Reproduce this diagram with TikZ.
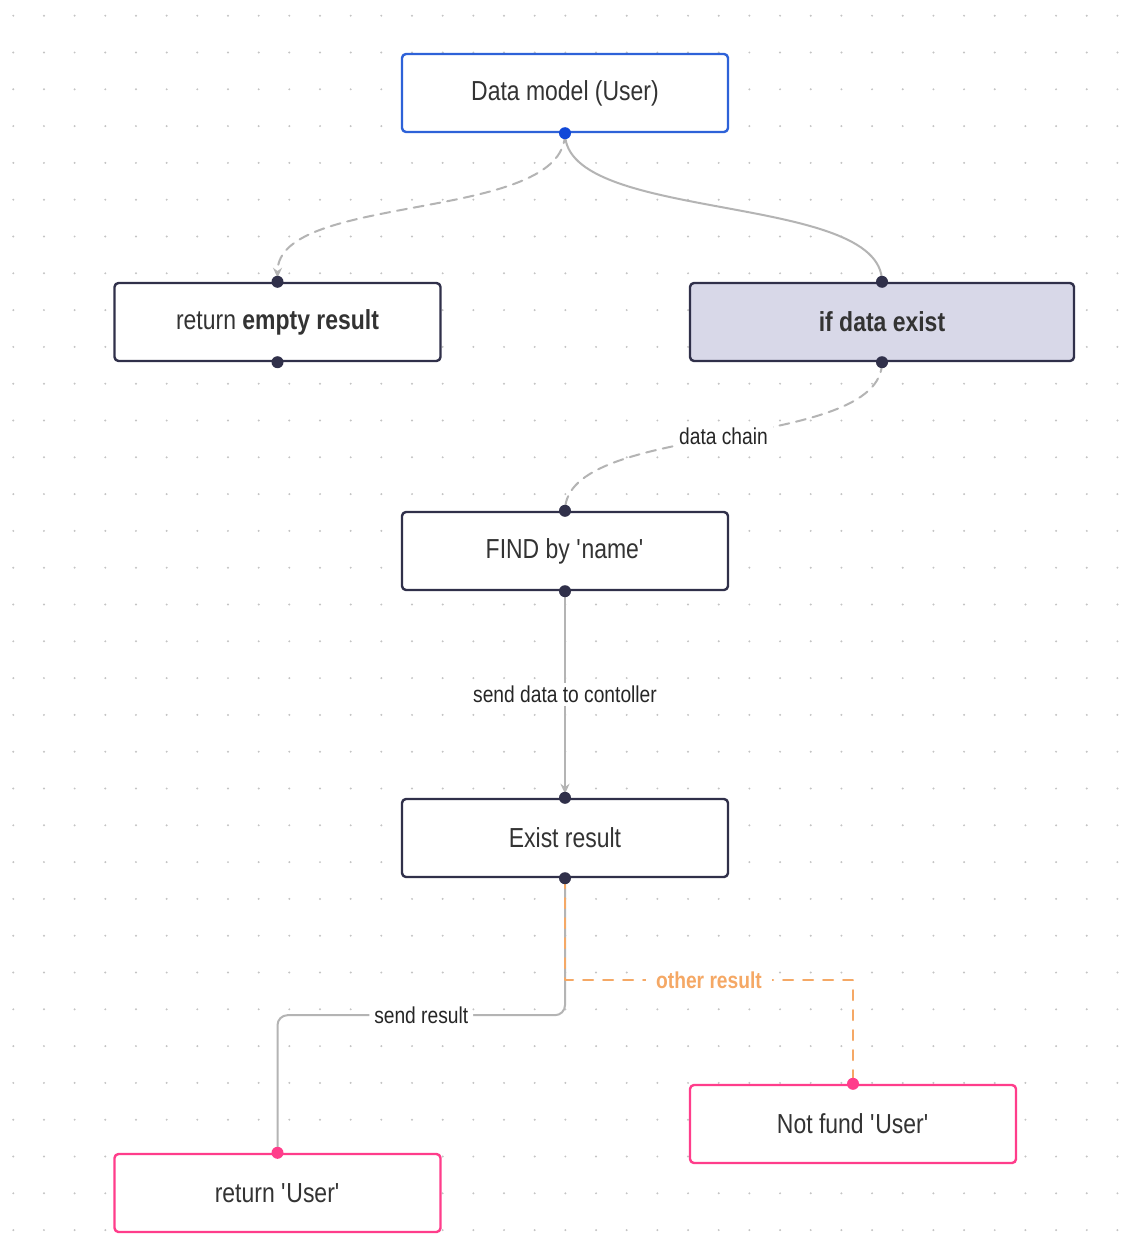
\documentclass[tikz,border=0pt]{standalone}
\usepackage{fontspec}
\setmainfont{Liberation Sans}[FakeStretch=0.835]
\usetikzlibrary{arrows.meta}

\definecolor{edgegray}{HTML}{B4B4B4}
\definecolor{boxdark}{HTML}{30304A}
\definecolor{boxblue}{HTML}{2E62D8}
\definecolor{dotblue}{HTML}{1148D8}
\definecolor{boxpink}{HTML}{FF3D8B}
\definecolor{condfill}{HTML}{D8D8E8}
\definecolor{otherorange}{HTML}{F5A865}
\definecolor{txtgray}{HTML}{333333}
\definecolor{griddot}{HTML}{C4C4C4}

\newcommand{\sq}{\textquotesingle}

\begin{document}
\begin{tikzpicture}[
  x={(1pt,0pt)},
  y={(0pt,-1pt)},
  >=Stealth,
  line cap=round,
  line join=round,
  box/.style={draw=boxdark, line width=2.4pt, rounded corners=4pt, fill=white,
    minimum width=326pt, minimum height=78pt, text=txtgray,
    font=\fontsize{27.5}{31}\selectfont},
  link/.style={edgegray, line width=2pt},
  dashlink/.style={link, dash pattern=on 10pt off 7pt},
  lbl/.style={fill=white, text=black!85, inner xsep=5pt, inner ysep=3pt,
    font=\fontsize{23}{27}\selectfont},
  tip/.style={-{Stealth[length=10pt,width=9pt]}, shorten >=4pt}
]
  \useasboundingbox (0,0) rectangle (1121,1260);
  \fill[white] (0,0) rectangle (1121,1260);

  \foreach \i in {0,...,36} {
    \foreach \j in {0,...,33} {
      \fill[griddot] ({13.3+30.67*\i},{15.7+36.8*\j}) circle (1.1pt);
    }
  }

  \node[box, draw=boxblue] (model) at (565,93) {Data model (User)};
  \node[box] (empty) at (277.5,322) {return \textbf{empty result}};
  \node[box, fill=condfill, minimum width=384pt] (cond) at (882,322)
    {\textbf{if data exist}};
  \node[box] (find) at (565,551) {FIND by \sq name\sq};
  \node[box] (exist) at (565,838) {Exist result};
  \node[box, draw=boxpink] (notfund) at (853,1124) {Not fund \sq User\sq};
  \node[box, draw=boxpink] (ret) at (277.5,1193) {return \sq User\sq};

  \draw[dashlink, tip] (model.south) .. controls +(0,90) and +(0,-90) .. (empty.north);
  \draw[link] (model.south) .. controls +(0,90) and +(0,-90) .. (cond.north);
  \draw[dashlink] (cond.south) .. controls +(0,90) and +(0,-90) .. (find.north)
    node[lbl, pos=0.5] {data chain};
  \draw[link, tip] (find.south) -- (exist.north)
    node[lbl, midway] {send data to contoller};
  \draw[link, rounded corners=10pt] (exist.south) -- ++(0,137)
    -| node[lbl, pos=0.25] {send result} (ret.north);
  \draw[otherorange, line width=2pt, dash pattern=on 10pt off 10pt]
    (exist.south) -- ++(0,102)
    -| node[lbl, pos=0.25, inner xsep=10pt, text=otherorange,
            font=\fontsize{23}{27}\selectfont\bfseries]
      {other result} (notfund.north);

  \foreach \n in {empty.north, empty.south, cond.north, cond.south,
                  find.north, find.south, exist.north, exist.south} {
    \fill[boxdark] (\n) circle (6pt);
  }
  \fill[dotblue] (model.south) circle (6pt);
  \fill[boxpink] (notfund.north) circle (6pt);
  \fill[boxpink] (ret.north) circle (6pt);
\end{tikzpicture}
\end{document}
